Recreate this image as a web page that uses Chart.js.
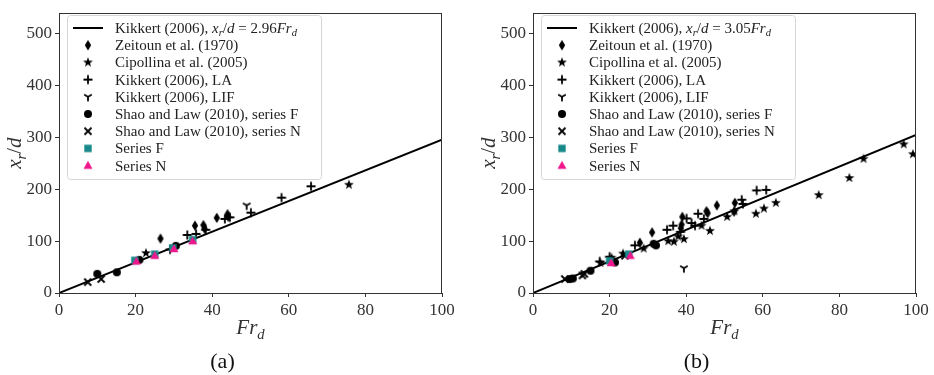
<!DOCTYPE html>
<html>
<head>
<meta charset="utf-8">
<script src="https://cdn.jsdelivr.net/npm/chart.js@4"></script>
<style>
    html, body { margin: 0; padding: 0; background: #fff; }
    .wrap { display: flex; width: 934px; height: 375px; }
    .panel { width: 467px; height: 375px; }
</style>
</head>
<body>
<div class="wrap">
    <div class="panel"><canvas id="chartA" width="467" height="375"></canvas></div>
    <div class="panel"><canvas id="chartB" width="467" height="375"></canvas></div>
</div>
<script>
// axis ticks
const xTicks = [0, 20, 40, 60, 80, 100];
const yTicks = [0, 100, 200, 300, 400, 500];

const legendLabels = [
    'Zeitoun et al. (1970)',
    'Cipollina et al. (2005)',
    'Kikkert (2006), LA',
    'Kikkert (2006), LIF',
    'Shao and Law (2010), series F',
    'Shao and Law (2010), series N',
    'Series F',
    'Series N'
];

// panel (a): [Fr_d, x_r/d]
const fitXA = [0, 100];
const fitYA = [0, 296];
const zeitounA = [[26.5, 105], [35.5, 130], [37.7, 131], [38, 124], [41.2, 145], [44, 152], [44.2, 147]];
const cipollinaA = [[22.7, 77], [75.7, 209]];
const kikkertLaA = [[29, 84], [33.5, 112], [35.8, 114], [38.3, 122], [43.3, 143], [44.6, 146], [50.1, 155], [58.1, 184], [65.8, 206]];
const kikkertLifA = [[49, 169]];
const shaoFA = [[10, 37], [15.1, 40], [21, 64], [30.5, 91]];
const shaoNA = [[7.5, 21], [11, 27]];
const seriesFA = [[19.8, 63], [25, 75], [29.7, 87], [34.9, 103]];
const seriesNA = [[20.2, 61], [25, 72], [30, 85], [34.9, 100]];

// panel (b)
const fitXB = [0, 100];
const fitYB = [0, 305];
const zeitounB = [[27.9, 97], [31.1, 117], [38.6, 125], [38.8, 132], [39, 147], [45.3, 158], [45.6, 154], [48, 169], [52.5, 157], [52.7, 174]];
const cipollinaB = [[17.6, 58], [20.5, 68], [23.5, 76], [28.9, 86], [35.3, 100], [36.8, 99], [37.9, 109], [39.4, 104], [44, 130], [46.2, 120],
    [50.7, 147], [52.6, 158], [58.2, 153], [60.3, 163], [63.4, 174], [74.6, 189], [82.6, 222], [86.3, 259], [96.8, 287], [99.2, 268]];
const kikkertLaB = [[17.4, 61], [20, 70], [26.6, 92], [35, 122], [36.6, 130], [38.5, 118], [40.1, 144], [41.4, 135], [42.3, 130], [43.1, 153],
    [44.6, 143], [54.5, 180], [54.8, 172], [58.4, 198], [60.9, 199]];
const kikkertLifB = [[39.4, 48]];
const shaoFB = [[9.6, 27], [10.4, 28], [15, 43], [21.4, 59], [31.5, 95], [32.1, 92]];
const shaoNB = [[8.3, 27], [12.9, 34], [13.4, 37], [24, 72]];
const seriesFB = [[20, 62], [25, 75]];
const seriesNB = [[20.4, 58], [25.4, 72]];

const SERIF = '"Liberation Serif", "DejaVu Serif", serif';
const INK = '#222';

// matplotlib-like marker glyphs, used as Chart.js pointStyle images
function makeMarker(kind, color) {
    const c = document.createElement('canvas');
    c.width = 14;
    c.height = 14;
    const g = c.getContext('2d');
    g.translate(7, 7);
    g.fillStyle = color;
    g.strokeStyle = color;
    g.lineWidth = 1.8;
    g.beginPath();
    switch (kind) {
        case 'circle':
            g.arc(0, 0, 4, 0, Math.PI * 2);
            g.fill();
            break;
        case 'diamond':
            g.moveTo(0, -5.3); g.lineTo(3.2, 0); g.lineTo(0, 5.3); g.lineTo(-3.2, 0);
            g.closePath();
            g.fill();
            break;
        case 'star':
            for (let i = 0; i < 10; i++) {
                const r = i % 2 ? 2.1 : 5.2;
                const a = -Math.PI / 2 + i * Math.PI / 5;
                g.lineTo(r * Math.cos(a), r * Math.sin(a));
            }
            g.closePath();
            g.fill();
            break;
        case 'plus':
            g.moveTo(-4.5, 0); g.lineTo(4.5, 0);
            g.moveTo(0, -4.5); g.lineTo(0, 4.5);
            g.stroke();
            break;
        case 'tri_down':
            g.moveTo(0, 0); g.lineTo(0, 4.4);
            g.moveTo(0, 0); g.lineTo(-3.8, -2.2);
            g.moveTo(0, 0); g.lineTo(3.8, -2.2);
            g.stroke();
            break;
        case 'x':
            g.moveTo(-3.5, -3.5); g.lineTo(3.5, 3.5);
            g.moveTo(3.5, -3.5); g.lineTo(-3.5, 3.5);
            g.stroke();
            break;
        case 'square':
            g.fillRect(-3.7, -3.7, 7.4, 7.4);
            break;
        case 'triangle':
            g.moveTo(0, -4.8); g.lineTo(4.5, 3.3); g.lineTo(-4.5, 3.3);
            g.closePath();
            g.fill();
            break;
    }
    return c;
}

const markers = [
    makeMarker('diamond', '#000'),
    makeMarker('star', '#000'),
    makeMarker('plus', '#000'),
    makeMarker('tri_down', '#000'),
    makeMarker('circle', '#000'),
    makeMarker('x', '#000'),
    makeMarker('square', '#17898a'),
    makeMarker('triangle', '#f0168c')
];

function toPoints(pairs) {
    return pairs.map(p => ({ x: p[0], y: p[1] }));
}

function drawRich(ctx, parts, x, y, size) {
    let cx = x;
    parts.forEach(p => {
        const s = p.sub ? size * 0.7 : size;
        ctx.font = (p.it ? 'italic ' : '') + s + 'px ' + SERIF;
        ctx.fillText(p.t, cx, y + (p.sub ? size * 0.22 : 0));
        cx += ctx.measureText(p.t).width;
    });
}

function richWidth(ctx, parts, size) {
    let w = 0;
    parts.forEach(p => {
        const s = p.sub ? size * 0.7 : size;
        ctx.font = (p.it ? 'italic ' : '') + s + 'px ' + SERIF;
        w += ctx.measureText(p.t).width;
    });
    return w;
}

// frame, legend, axis titles and panel caption
function decorPlugin(slope, caption) {
    return {
        id: 'decor',
        afterDraw(chart) {
            const ctx = chart.ctx;
            const a = chart.chartArea;
            ctx.save();

            ctx.strokeStyle = '#333';
            ctx.lineWidth = 1;
            ctx.strokeRect(Math.round(a.left) + 0.5, Math.round(a.top) + 0.5,
                Math.round(a.right - a.left) - 1, Math.round(a.bottom - a.top));

            // legend
            const bx = a.left + 8, by = 15, bw = 254, bh = 164;
            ctx.fillStyle = 'rgba(255,255,255,0.85)';
            ctx.strokeStyle = '#d6d6d6';
            ctx.beginPath();
            ctx.roundRect(bx + 0.5, by + 0.5, bw, bh, 3);
            ctx.fill();
            ctx.stroke();

            const rowY = i => by + 13 + i * 17.2;
            ctx.strokeStyle = '#000';
            ctx.lineWidth = 2;
            ctx.beginPath();
            ctx.moveTo(bx + 6, rowY(0));
            ctx.lineTo(bx + 36, rowY(0));
            ctx.stroke();

            ctx.fillStyle = INK;
            ctx.textAlign = 'left';
            ctx.textBaseline = 'alphabetic';
            drawRich(ctx, [
                { t: 'Kikkert (2006), ' },
                { t: 'x', it: true }, { t: 'r', it: true, sub: true },
                { t: '/' }, { t: 'd', it: true },
                { t: ' = ' + slope }, { t: 'Fr', it: true }, { t: 'd', it: true, sub: true }
            ], bx + 48, rowY(0) + 5, 15);

            legendLabels.forEach((label, i) => {
                const m = markers[i];
                ctx.drawImage(m, bx + 21 - m.width / 2, rowY(i + 1) - m.height / 2);
                ctx.fillStyle = INK;
                ctx.font = '15px ' + SERIF;
                ctx.fillText(label, bx + 48, rowY(i + 1) + 5);
            });

            // x axis title
            const xParts = [{ t: 'Fr', it: true }, { t: 'd', it: true, sub: true }];
            const cx = (a.left + a.right) / 2;
            ctx.fillStyle = '#333';
            drawRich(ctx, xParts, cx - richWidth(ctx, xParts, 21) / 2, 334, 21);

            // y axis title
            const yParts = [{ t: 'x', it: true }, { t: 'r', it: true, sub: true }, { t: '/' }, { t: 'd', it: true }];
            ctx.translate(a.left - 38, (a.top + a.bottom) / 2);
            ctx.rotate(-Math.PI / 2);
            drawRich(ctx, yParts, -richWidth(ctx, yParts, 21) / 2, 0, 21);
            ctx.setTransform(1, 0, 0, 1, 0, 0);

            // caption
            ctx.fillStyle = '#111';
            ctx.font = '22px ' + SERIF;
            ctx.textAlign = 'center';
            ctx.fillText(caption, cx - 28, 368);
            ctx.restore();
        }
    };
}

function axisOptions(ticks, min, max) {
    return {
        type: 'linear',
        min: min,
        max: max,
        afterBuildTicks: scale => { scale.ticks = ticks.map(v => ({ value: v })); },
        grid: { drawOnChartArea: false, drawTicks: true, tickLength: 4, color: '#333' },
        border: { display: false },
        ticks: {
            font: { family: SERIF, size: 17 },
            color: '#333',
            padding: 3,
            maxRotation: 0,
            autoSkip: false
        }
    };
}

function buildChart(id, panel) {
    const groups = [panel.zeitoun, panel.cipollina, panel.kikkertLa, panel.kikkertLif,
        panel.shaoF, panel.shaoN, panel.seriesF, panel.seriesN];

    const datasets = [{
        label: 'fit',
        data: panel.fitX.map((x, i) => ({ x: x, y: panel.fitY[i] })),
        showLine: true,
        borderColor: '#000',
        borderWidth: 2,
        pointRadius: 0,
        order: 1
    }];
    groups.forEach((g, i) => {
        datasets.push({
            label: legendLabels[i],
            data: toPoints(g),
            pointStyle: markers[i],
            pointRadius: 4,
            showLine: false,
            order: -i
        });
    });

    const xAxis = axisOptions(xTicks, 0, 100);
    xAxis.afterFit = scale => { scale.height = 82; };
    const yAxis = axisOptions(yTicks, 0, 540);
    yAxis.afterFit = scale => { scale.width = panel.yWidth; };

    return new Chart(document.getElementById(id), {
        type: 'scatter',
        data: { datasets },
        options: {
            responsive: false,
            animation: false,
            devicePixelRatio: 1,
            layout: { padding: { left: 0, right: panel.padRight, top: 7, bottom: 0 } },
            plugins: {
                legend: { display: false },
                tooltip: { enabled: false }
            },
            scales: { x: xAxis, y: yAxis }
        },
        plugins: [decorPlugin(panel.slope, panel.caption)]
    });
}

buildChart('chartA', {
    fitX: fitXA, fitY: fitYA, zeitoun: zeitounA, cipollina: cipollinaA, kikkertLa: kikkertLaA,
    kikkertLif: kikkertLifA, shaoF: shaoFA, shaoN: shaoNA, seriesF: seriesFA, seriesN: seriesNA,
    slope: '2.96', caption: '(a)', yWidth: 59, padRight: 25
});

buildChart('chartB', {
    fitX: fitXB, fitY: fitYB, zeitoun: zeitounB, cipollina: cipollinaB, kikkertLa: kikkertLaB,
    kikkertLif: kikkertLifB, shaoF: shaoFB, shaoN: shaoNB, seriesF: seriesFB, seriesN: seriesNB,
    slope: '3.05', caption: '(b)', yWidth: 66, padRight: 18
});
</script>
</body>
</html>
